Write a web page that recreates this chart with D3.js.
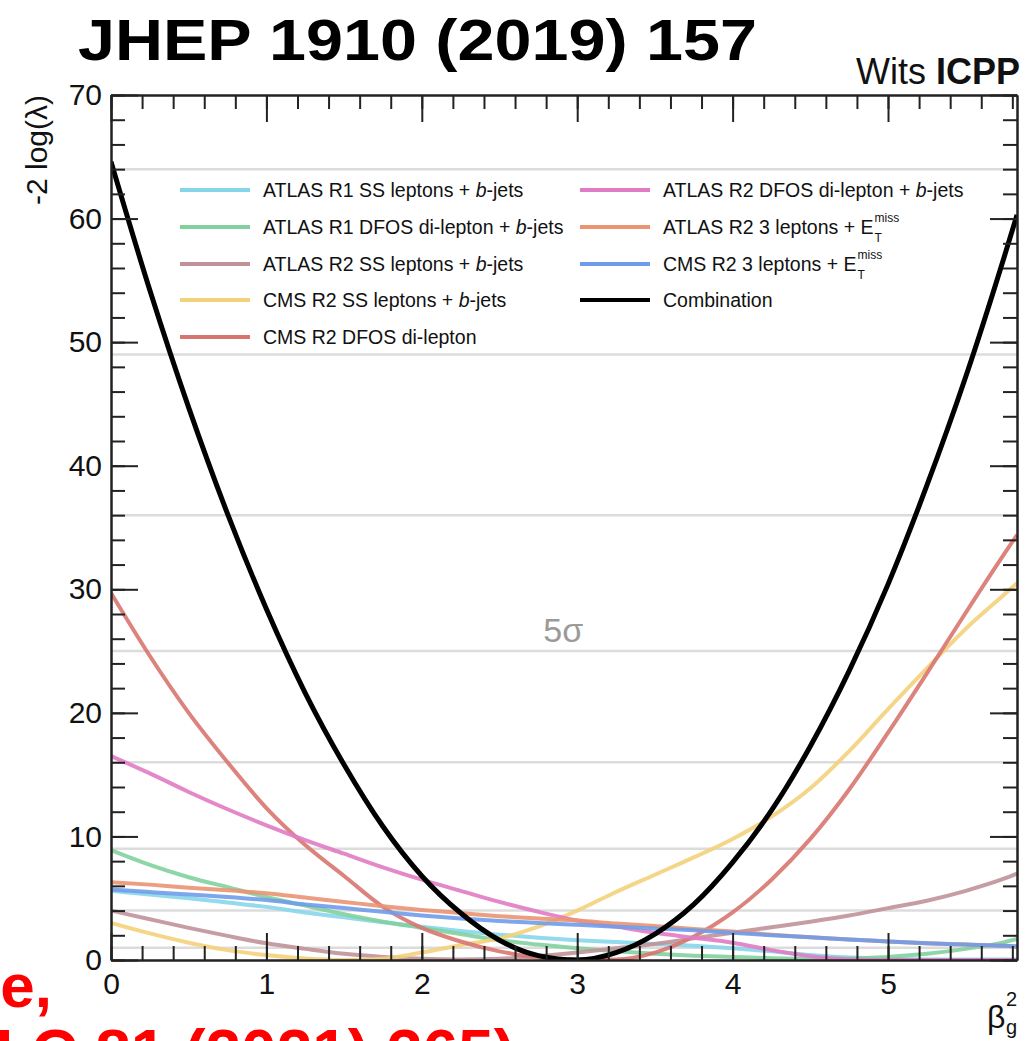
<!DOCTYPE html>
<html>
<head>
<meta charset="utf-8">
<script src="https://cdn.jsdelivr.net/npm/d3@7"></script>
<style>
  body { margin: 0; background: #fff; }
  svg { display: block; font-family: "Liberation Sans", Arial, sans-serif; }
</style>
</head>
<body>
<div id="chart"></div>
<script>
////////////////////////////////////////////////////////////////
// Data

// common beta_g^2 grid for all likelihood scans
let xGrid = [0, 0.25, 0.5, 0.75, 1, 1.25, 1.5, 1.75, 2, 2.25, 2.5, 2.75, 3,
             3.25, 3.5, 3.75, 4, 4.25, 4.5, 4.75, 5, 5.25, 5.5, 5.75, 5.83]

let atlasR1SS    = [5.6, 5.3, 5.0, 4.65, 4.3, 3.85, 3.45, 3.05, 2.7, 2.35, 2.05, 1.8, 1.6,
                    1.45, 1.3, 1.15, 0.95, 0.7, 0.4, 0.2, 0.1, 0.05, 0.05, 0.05, 0.05]
let atlasR1DFOS  = [8.9, 7.7, 6.7, 5.9, 5.1, 4.4, 3.7, 3.1, 2.6, 2.1, 1.6, 1.25, 0.95,
                    0.7, 0.5, 0.35, 0.25, 0.15, 0.1, 0.1, 0.25, 0.5, 0.9, 1.45, 1.7]
let atlasR2SS    = [4.0, 3.3, 2.6, 1.95, 1.35, 0.9, 0.5, 0.25, 0.1, 0.05, 0.1, 0.3, 0.6,
                    0.95, 1.3, 1.75, 2.2, 2.65, 3.1, 3.6, 4.2, 4.8, 5.6, 6.6, 7.0]
let cmsR2SS      = [3.0, 2.15, 1.4, 0.8, 0.4, 0.12, 0.0, 0.1, 0.6, 1.2, 1.75, 2.7, 4.0,
                    5.5, 6.9, 8.3, 9.8, 11.6, 13.9, 16.9, 20.3, 23.6, 26.8, 29.6, 30.5]
let cmsR2DFOS    = [29.7, 24.6, 20.0, 16.0, 12.3, 9.3, 6.8, 4.3, 2.6, 1.5, 0.7, 0.2, 0.05,
                    0.05, 0.6, 1.9, 3.85, 6.5, 9.8, 13.8, 18.4, 23.2, 28.1, 32.9, 34.4]
let atlasR2DFOS  = [16.5, 15.1, 13.6, 12.2, 10.9, 9.7, 8.6, 7.5, 6.5, 5.6, 4.7, 3.9, 3.2,
                    2.7, 2.2, 1.8, 1.4, 0.8, 0.3, 0.05, 0, 0, 0, 0, 0]
let atlasR23l    = [6.3, 6.1, 5.85, 5.65, 5.4, 5.05, 4.7, 4.35, 4.05, 3.8, 3.55, 3.35, 3.2,
                    2.95, 2.75, 2.5, 2.3, 2.05, 1.85, 1.65, 1.5, 1.35, 1.25, 1.15, 1.1]
let cmsR23l      = [5.7, 5.5, 5.3, 5.1, 4.85, 4.5, 4.2, 3.9, 3.6, 3.35, 3.15, 3.0, 2.85,
                    2.7, 2.55, 2.4, 2.2, 2.0, 1.85, 1.65, 1.5, 1.35, 1.25, 1.15, 1.1]
let combination  = [64.6, 54.2, 44.7, 36.1, 28.4, 21.6, 15.8, 10.8, 6.8, 3.8, 1.6, 0.35, 0.0,
                    0.6, 2.1, 4.5, 7.9, 12.1, 17.3, 23.4, 30.4, 38.4, 47.2, 57.0, 60.3]

let seriesNames = ["ATLAS R1 SS leptons + b-jets", "ATLAS R1 DFOS di-lepton + b-jets",
                   "ATLAS R2 SS leptons + b-jets", "CMS R2 SS leptons + b-jets",
                   "CMS R2 DFOS di-lepton", "ATLAS R2 DFOS di-lepton + b-jets",
                   "ATLAS R2 3 leptons + E", "CMS R2 3 leptons + E", "Combination"]
let seriesValues = [atlasR1SS, atlasR1DFOS, atlasR2SS, cmsR2SS, cmsR2DFOS,
                    atlasR2DFOS, atlasR23l, cmsR23l, combination]
let seriesColors = ["#86d6ea", "#82d09e", "#c09298", "#f4d27c", "#d87570",
                    "#e07cc4", "#ea9472", "#6f9cea", "#000000"]

// n-sigma reference lines sit at n^2
let sigmaLevels = [1, 4, 9, 16, 25, 36, 49, 64]

let xMajor = [0, 1, 2, 3, 4, 5]
let yMajor = [0, 10, 20, 30, 40, 50, 60, 70]

////////////////////////////////////////////////////////////////
// Setup

let W = 1034, H = 1041
let pLeft = 111, pRight = 1017, pTop = 95, pBottom = 960

let svg = d3.select("#chart").append("svg")
  .attr("width", W)
  .attr("height", H)
  .style("overflow", "hidden")

let xScale = d3.scaleLinear().domain([0, 5.83]).range([pLeft, pRight])
let yScale = d3.scaleLinear().domain([0, 70]).range([pBottom, pTop])

let xMinor = d3.range(0, 5.83, 0.2)
let yMinor = d3.range(0, 70.01, 2)

svg.append("defs").append("clipPath").attr("id", "plotclip")
  .append("rect")
  .attr("x", pLeft).attr("y", pTop)
  .attr("width", pRight - pLeft).attr("height", pBottom - pTop)

// sigma lines
svg.append("g")
  .selectAll("line")
  .data(sigmaLevels)
  .enter()
  .append("line")
  .attr("x1", pLeft)
  .attr("x2", pRight)
  .attr("y1", d => yScale(d))
  .attr("y2", d => yScale(d))
  .attr("stroke", "#dcdcdc")
  .attr("stroke-width", 2.5)

svg.append("text")
  .attr("x", xScale(2.91))
  .attr("y", yScale(25) - 9)
  .attr("text-anchor", "middle")
  .attr("font-size", 34)
  .attr("fill", "#9a9a9a")
  .text("5σ")

////////////////////////////////////////////////////////////////
// Curves

let line = d3.line()
  .x((d, i) => xScale(xGrid[i]))
  .y(d => yScale(d))
  .curve(d3.curveMonotoneX)

svg.append("g")
  .attr("clip-path", "url(#plotclip)")
  .selectAll("path")
  .data(seriesValues)
  .enter()
  .append("path")
  .attr("d", d => line(d))
  .attr("fill", "none")
  .attr("stroke", (d, i) => seriesColors[i])
  .attr("stroke-width", (d, i) => i == 8 ? 5 : 4)
  .attr("stroke-opacity", (d, i) => i == 8 ? 1 : 0.9)

////////////////////////////////////////////////////////////////
// Axes (ROOT style: box, ticks pointing inward on all four sides)

function styleAxis(g) {
  g.selectAll("path").attr("stroke", "#222").attr("stroke-width", 2)
  g.selectAll("line").attr("stroke", "#222").attr("stroke-width", 2)
  g.selectAll("text").attr("font-size", 30).attr("fill", "#111")
    .attr("font-family", "Liberation Sans, Arial, sans-serif")
}

svg.append("g")
  .attr("transform", `translate(0,${pBottom})`)
  .call(d3.axisBottom(xScale).tickValues(xMinor).tickSize(-14).tickSizeOuter(0).tickFormat(""))
  .call(styleAxis)
svg.append("g")
  .attr("transform", `translate(0,${pBottom})`)
  .call(d3.axisBottom(xScale).tickValues(xMajor).tickSize(-27).tickSizeOuter(0)
        .tickPadding(13).tickFormat(d3.format("d")))
  .call(styleAxis)

svg.append("g")
  .attr("transform", `translate(0,${pTop})`)
  .call(d3.axisTop(xScale).tickValues(xMinor).tickSize(-14).tickSizeOuter(0).tickFormat(""))
  .call(styleAxis)
svg.append("g")
  .attr("transform", `translate(0,${pTop})`)
  .call(d3.axisTop(xScale).tickValues(xMajor).tickSize(-27).tickSizeOuter(0).tickFormat(""))
  .call(styleAxis)

svg.append("g")
  .attr("transform", `translate(${pLeft},0)`)
  .call(d3.axisLeft(yScale).tickValues(yMinor).tickSize(-14).tickSizeOuter(0).tickFormat(""))
  .call(styleAxis)
svg.append("g")
  .attr("transform", `translate(${pLeft},0)`)
  .call(d3.axisLeft(yScale).tickValues(yMajor).tickSize(-27).tickSizeOuter(0)
        .tickPadding(9).tickFormat(d3.format("d")))
  .call(styleAxis)

svg.append("g")
  .attr("transform", `translate(${pRight},0)`)
  .call(d3.axisRight(yScale).tickValues(yMinor).tickSize(-14).tickSizeOuter(0).tickFormat(""))
  .call(styleAxis)
svg.append("g")
  .attr("transform", `translate(${pRight},0)`)
  .call(d3.axisRight(yScale).tickValues(yMajor).tickSize(-27).tickSizeOuter(0).tickFormat(""))
  .call(styleAxis)

// axis titles
svg.append("text")
  .attr("transform", `translate(47,${pTop}) rotate(-90)`)
  .attr("text-anchor", "end")
  .attr("font-size", 30)
  .attr("fill", "#111")
  .text("-2 log(λ)")

svg.append("text")
  .attr("x", 987)
  .attr("y", 1028)
  .attr("font-size", 32)
  .attr("fill", "#111")
  .text("β")
svg.append("text").attr("x", 1006).attr("y", 1006).attr("font-size", 20).attr("fill", "#111").text("2")
svg.append("text").attr("x", 1006).attr("y", 1034).attr("font-size", 20).attr("fill", "#111").text("g")

////////////////////////////////////////////////////////////////
// Legend

let legRows = [190, 227, 264, 300, 337]
let legend = svg.append("g")

seriesNames.forEach((name, i) => {
  let col = i < 5 ? 0 : 1
  let row = i < 5 ? i : i - 5
  let x0 = col == 0 ? 180 : 580
  let y0 = legRows[row]

  legend.append("line")
    .attr("x1", x0).attr("x2", x0 + 70)
    .attr("y1", y0).attr("y2", y0)
    .attr("stroke", seriesColors[i])
    .attr("stroke-width", 4)

  let t = legend.append("text")
    .attr("x", x0 + 83)
    .attr("y", y0 + 7)
    .attr("font-size", 19.5)
    .attr("fill", "#111")

  if (name.endsWith("b-jets")) {
    t.append("tspan").text(name.slice(0, -6))
    t.append("tspan").attr("font-style", "italic").text("b")
    t.append("tspan").text("-jets")
  } else {
    t.text(name)
  }

  if (name.endsWith("+ E")) {
    let len = t.node().getComputedTextLength()
    legend.append("text")
      .attr("x", x0 + 83 + len + 1).attr("y", y0 - 5)
      .attr("font-size", 12).attr("fill", "#111").text("miss")
    legend.append("text")
      .attr("x", x0 + 83 + len + 1).attr("y", y0 + 15)
      .attr("font-size", 12).attr("fill", "#111").text("T")
  }
})

////////////////////////////////////////////////////////////////
// Annotations around the frame

svg.append("text")
  .attr("x", 78)
  .attr("y", 60)
  .attr("font-size", 58)
  .attr("font-weight", "bold")
  .attr("textLength", 679)
  .attr("lengthAdjust", "spacingAndGlyphs")
  .attr("fill", "#000")
  .text("JHEP 1910 (2019) 157")

let wits = svg.append("text")
  .attr("x", 1020)
  .attr("y", 84)
  .attr("text-anchor", "end")
  .attr("font-size", 36)
  .attr("fill", "#111")
wits.append("tspan").text("Wits ")
wits.append("tspan").attr("font-weight", "bold").text("ICPP")

svg.append("text")
  .attr("x", 52)
  .attr("y", 1007)
  .attr("text-anchor", "end")
  .attr("font-size", 62)
  .attr("font-weight", "bold")
  .attr("fill", "#ff0000")
  .text("e,")

svg.append("text")
  .attr("x", 515)
  .attr("y", 1075)
  .attr("text-anchor", "end")
  .attr("font-size", 64)
  .attr("font-weight", "bold")
  .attr("fill", "#ff0000")
  .text("J C 81 (2021) 365)")
</script>
</body>
</html>
